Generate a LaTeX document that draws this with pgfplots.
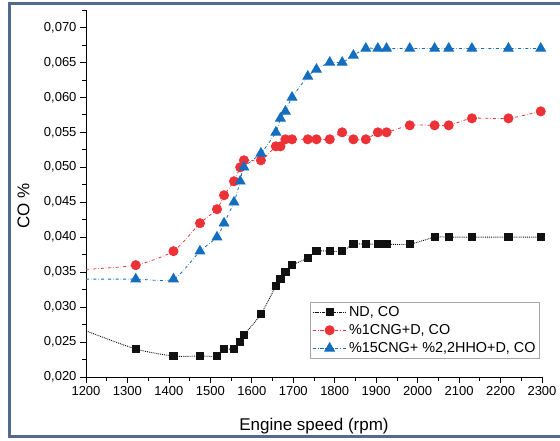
\documentclass[border=0pt]{standalone}
\usepackage{fontspec}
\setmainfont{Liberation Sans}
\usepackage{pgfplots}
\usepackage{pgfplotstable}
\pgfplotsset{compat=1.18}
\definecolor{framec}{RGB}{84,106,140}
\definecolor{blk}{RGB}{17,17,17}
\definecolor{redc}{RGB}{237,50,55}
\definecolor{bluec}{RGB}{20,110,190}

\pgfplotstableread{
x y
1200 0.0266
1320 0.024
1411 0.023
1475 0.023
1516 0.023
1533 0.024
1557 0.024
1572 0.025
1581 0.026
1622 0.029
1658 0.033
1669 0.034
1681 0.035
1697 0.036
1735 0.037
1756 0.038
1788 0.038
1818 0.038
1845 0.039
1875 0.039
1904 0.039
1925 0.039
1981 0.039
2041 0.040
2075 0.040
2131 0.040
2219 0.040
2297 0.040
}\nd

\pgfplotstableread{
x y
1200 0.0354
1320 0.036
1411 0.038
1475 0.042
1516 0.044
1533 0.046
1557 0.048
1572 0.050
1581 0.051
1622 0.051
1658 0.053
1669 0.053
1681 0.054
1697 0.054
1735 0.054
1756 0.054
1788 0.054
1818 0.055
1845 0.054
1875 0.054
1904 0.055
1925 0.055
1981 0.056
2041 0.056
2075 0.056
2131 0.057
2219 0.057
2297 0.058
}\cng

\pgfplotstableread{
x y
1200 0.0340
1320 0.034
1411 0.034
1475 0.038
1516 0.040
1533 0.042
1557 0.045
1572 0.048
1581 0.050
1622 0.052
1658 0.055
1669 0.057
1681 0.058
1697 0.060
1735 0.063
1756 0.064
1788 0.065
1818 0.065
1845 0.066
1875 0.067
1904 0.067
1925 0.067
1981 0.067
2041 0.067
2075 0.067
2131 0.067
2219 0.067
2297 0.067
}\hho

\begin{document}
\begin{tikzpicture}
\useasboundingbox (0pt,0pt) rectangle (560pt,440pt);
\draw[framec, line width=3pt] (580pt,436pt) -- (9pt,436pt) -- (9pt,3.5pt) -- (580pt,3.5pt);
\begin{axis}[
  at={(86pt,63pt)}, anchor=south west,
  scale only axis, width=456pt, height=367pt,
  xmin=1200, xmax=2300, ymin=0.020, ymax=0.0725,
  axis lines=left, axis line style={-, line width=0.8pt, black},
  tick align=outside,
  major tick length=6pt, minor tick length=3.5pt,
  every tick/.style={black, line width=0.8pt},
  xtick={1200,1300,...,2300},
  minor xtick={1250,1350,...,2250},
  ytick={0.020,0.025,...,0.0701},
  minor ytick={0.0225,0.0275,...,0.0726},
  scaled y ticks=false,
  xticklabel style={/pgf/number format/.cd, set thousands separator={}},
  yticklabel style={/pgf/number format/.cd, fixed, fixed zerofill, precision=3, use comma},
  /pgf/number format/assume math mode=true,
  ticklabel style={font=\fontsize{13}{15}\selectfont},
  xlabel={Engine speed (rpm)},
  ylabel={CO \%},
  label style={font=\fontsize{17}{20}\selectfont},
  xlabel style={at={(axis description cs:0.5,-0.1335)}, anchor=center},
  ylabel style={at={(axis description cs:-0.137,0.467)}, anchor=center, rotate=0},
  legend style={at={(axis description cs:0.491,0.204)}, anchor=north west,
    draw=gray!70, line width=0.6pt, font=\fontsize{14.4}{16}\selectfont,
    row sep=2.5pt, inner sep=2pt, cells={anchor=west}},
  legend image code/.code={\draw[mark indices={2}] plot coordinates {(0pt,0pt) (17pt,0pt) (34pt,0pt)};},
  legend cell align=left,
  clip=true,
]
\addplot[blk, densely dotted, line width=0.9pt, smooth, tension=0.4, mark=square*, mark size=3.6pt,
  mark indices={2,...,28}, mark options={solid, fill=blk}] table[x=x,y=y] {\nd};
\addlegendentry{ND, CO}
\addplot[redc, dash dot, line width=0.8pt, smooth, tension=0.4, mark=*, mark size=4.6pt,
  mark indices={2,...,28}, mark options={solid, fill=redc, draw=redc}] table[x=x,y=y] {\cng};
\addlegendentry{\%1CNG+D, CO}
\addplot[bluec, dash dot, line width=0.8pt, smooth, tension=0.4, mark=triangle*, mark size=5.6pt,
  mark indices={2,...,28}, mark options={solid, fill=bluec, draw=bluec}] table[x=x,y=y] {\hho};
\addlegendentry{\%15CNG+ \%2,2HHO+D, CO}
\end{axis}
\end{tikzpicture}
\end{document}
